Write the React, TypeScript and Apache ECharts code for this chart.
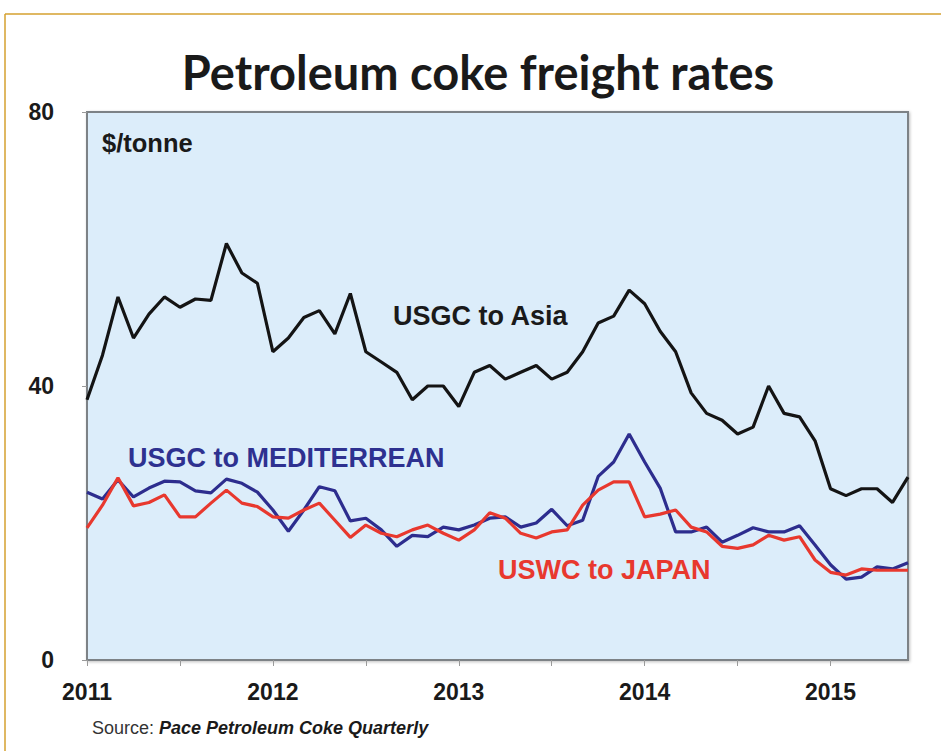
import React, { useEffect, useRef } from "react";
import * as echarts from "echarts";

const YEARS = ["2011", "2012", "2013", "2014", "2015"];
const MONTHS = ["Jan", "Feb", "Mar", "Apr", "May", "Jun", "Jul", "Aug", "Sep", "Oct", "Nov", "Dec"];
const MONTH_COUNT = 54; // Jan 2011 .. Jun 2015

const usgcAsia = [
  38, 44.5, 53, 47, 50.5, 53, 51.5, 52.7, 52.5, 60.8, 56.5, 55,
  45, 47, 50, 51, 47.6, 53.5, 45, 43.5, 42, 38, 40, 40,
  37, 42, 43, 41, 42, 43, 41, 42, 45, 49.2, 50.2, 54,
  52, 48, 45, 39, 36, 35, 33, 34, 40, 36, 35.5, 32,
  25, 24, 25, 25, 23, 26.7,
];

const usgcMed = [
  24.5, 23.5, 26.3, 23.8, 25.1, 26.1, 26, 24.7, 24.4, 26.4, 25.8, 24.5,
  21.9, 18.8, 21.9, 25.3, 24.7, 20.3, 20.7, 19, 16.6, 18.2, 18, 19.4,
  19, 19.7, 20.7, 20.9, 19.4, 20, 22, 19.6, 20.4, 26.8, 28.9, 33,
  28.9, 25.1, 18.7, 18.7, 19.4, 17.2, 18.2, 19.3, 18.7, 18.7, 19.6, 16.8,
  13.9, 11.8, 12.1, 13.6, 13.3, 14.2,
];

const uswcJapan = [
  19.3, 22.6, 26.6, 22.5, 23, 24.1, 20.9, 20.9, 22.9, 24.8, 22.9, 22.4,
  20.9, 20.7, 21.9, 22.9, 20.4, 17.9, 19.7, 18.5, 18, 19, 19.7, 18.5,
  17.5, 19, 21.5, 20.7, 18.5, 17.8, 18.7, 19, 22.6, 24.8, 26, 26,
  20.9, 21.3, 21.9, 19.4, 18.7, 16.6, 16.3, 16.8, 18.2, 17.5, 18, 14.6,
  12.8, 12.4, 13.3, 13.1, 13.1, 13.1,
];

const yTicks = [0, 40, 80];

const categories: string[] = [];
YEARS.forEach((y) => MONTHS.forEach((m) => categories.push(m + " " + y)));
const monthCats = categories.slice(0, MONTH_COUNT);

const TEXT_FONT = "'Liberation Sans', Arial, sans-serif";

export default function App() {
  const ref = useRef<HTMLDivElement>(null);

  useEffect(() => {
    if (!ref.current) return;
    const chart = echarts.init(ref.current, undefined, { renderer: "svg" });
    const option: any = {
      animation: false,
      backgroundColor: "#ffffff",
      grid: {
        left: 87,
        right: 33,
        top: 112,
        bottom: 91,
        show: true,
        backgroundColor: "#dcedfa",
        borderColor: "#7d8286",
        borderWidth: 2,
        shadowColor: "rgba(0,0,0,0.25)",
        shadowBlur: 3,
        shadowOffsetX: 1,
        shadowOffsetY: 1,
      },
      xAxis: {
        type: "category",
        data: monthCats,
        boundaryGap: false,
        axisLine: { show: true, lineStyle: { color: "#7d8286", width: 2 } },
        axisTick: {
          show: true,
          length: 6,
          interval: (i: number) => i % 6 === 0,
          lineStyle: { color: "#9a9a9a", width: 1 },
        },
        axisLabel: {
          interval: (i: number) => i % 12 === 0,
          formatter: (v: string) => v.split(" ")[1],
          fontFamily: TEXT_FONT,
          fontWeight: "bold",
          fontSize: 23,
          color: "#1a1a1a",
          margin: 20,
        },
        splitLine: { show: false },
      },
      yAxis: {
        type: "value",
        min: yTicks[0],
        max: yTicks[yTicks.length - 1],
        interval: 40,
        axisLine: { show: false },
        axisTick: { show: true, length: 5, lineStyle: { color: "#9a9a9a" } },
        axisLabel: {
          fontFamily: TEXT_FONT,
          fontWeight: "bold",
          fontSize: 23,
          color: "#1a1a1a",
          margin: 33,
          formatter: (v: number) => (yTicks.includes(v) ? String(v) : ""),
        },
        splitLine: { show: false },
      },
      series: [
        {
          name: "USGC to Asia",
          type: "line",
          data: usgcAsia,
          symbol: "none",
          lineStyle: { color: "#141414", width: 3.2 },
          z: 3,
        },
        {
          name: "USGC to MEDITERREAN",
          type: "line",
          data: usgcMed,
          symbol: "none",
          lineStyle: { color: "#2d2d8e", width: 3.2 },
          z: 4,
        },
        {
          name: "USWC to JAPAN",
          type: "line",
          data: uswcJapan,
          symbol: "none",
          lineStyle: { color: "#e8382e", width: 3.2 },
          z: 5,
        },
      ],
      graphic: [
        {
          type: "line",
          shape: { x1: 5, y1: 14, x2: 941, y2: 14 },
          style: { stroke: "#d4a12f", lineWidth: 1.5 },
        },
        {
          type: "line",
          shape: { x1: 5, y1: 14, x2: 5, y2: 751 },
          style: { stroke: "#d4a12f", lineWidth: 1.5 },
        },
        {
          type: "text",
          x: 478,
          y: 72,
          style: {
            text: "Petroleum coke freight rates",
            fontFamily: "Lato, 'Open Sans', sans-serif",
            fontWeight: "bold",
            fontSize: 47,
            fill: "#1a1a1a",
            align: "center",
            verticalAlign: "middle",
          },
        },
        {
          type: "text",
          x: 102,
          y: 143,
          z: 10,
          style: {
            text: "$/tonne",
            fontFamily: TEXT_FONT,
            fontWeight: "bold",
            fontSize: 25.5,
            fill: "#1a1a1a",
            verticalAlign: "middle",
          },
        },
        {
          type: "text",
          x: 393,
          y: 316,
          z: 10,
          style: {
            text: "USGC to Asia",
            fontFamily: TEXT_FONT,
            fontWeight: "bold",
            fontSize: 27,
            fill: "#1a1a1a",
            verticalAlign: "middle",
          },
        },
        {
          type: "text",
          x: 128,
          y: 458,
          z: 10,
          style: {
            text: "USGC to MEDITERREAN",
            fontFamily: TEXT_FONT,
            fontWeight: "bold",
            fontSize: 27,
            fill: "#2e3190",
            verticalAlign: "middle",
          },
        },
        {
          type: "text",
          x: 498,
          y: 570,
          z: 10,
          style: {
            text: "USWC to JAPAN",
            fontFamily: TEXT_FONT,
            fontWeight: "bold",
            fontSize: 27,
            fill: "#e8382e",
            verticalAlign: "middle",
          },
        },
        {
          type: "text",
          x: 92,
          y: 728,
          style: {
            rich: {
              a: { fontFamily: TEXT_FONT, fontSize: 18, fill: "#333333" },
              b: {
                fontFamily: TEXT_FONT,
                fontSize: 18,
                fontWeight: "bold",
                fontStyle: "italic",
                fill: "#1a1a1a",
              },
            },
            text: "{a|Source: }{b|Pace Petroleum Coke Quarterly}",
            verticalAlign: "middle",
          },
        },
      ],
    };
    chart.setOption(option);
    return () => chart.dispose();
  }, []);

  return (
    <div
      ref={ref}
      style={{ position: "fixed", left: 0, top: 0, width: 941, height: 751 }}
    />
  );
}
